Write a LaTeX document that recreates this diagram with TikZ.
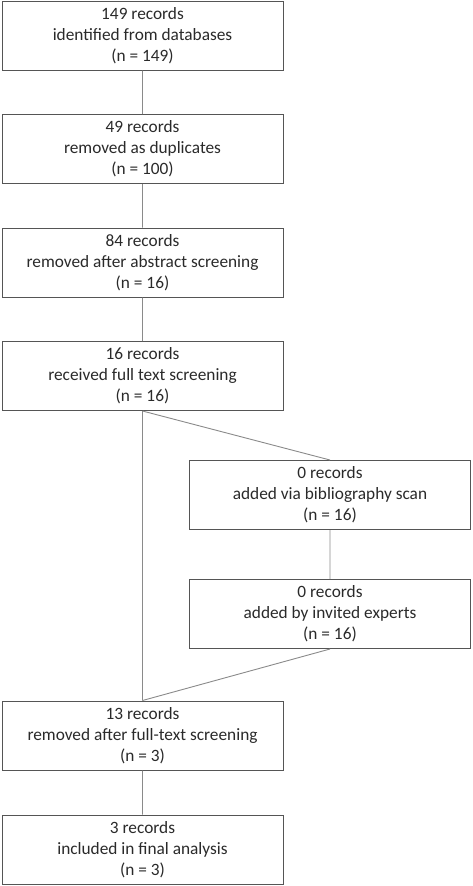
\documentclass[tikz,border=0pt]{standalone}
\usepackage{fontspec}
\setmainfont{Carlito}
\usepackage{tikz}
\definecolor{boxgray}{HTML}{555555}
\definecolor{linkgray}{HTML}{8A8A8A}
\definecolor{txtgray}{HTML}{2A2A2A}
\tikzset{recbox/.style={draw=boxgray,line width=1pt,fill=white,text=txtgray,
  minimum width=281pt,minimum height=69pt,inner sep=0pt,align=center,
  font=\fontsize{17.3}{21}\selectfont},
  link/.style={draw=linkgray,line width=0.9pt}}
\begin{document}
\begin{tikzpicture}[x=1pt,y=-1pt]
\useasboundingbox (0,0) rectangle (472,886);
\node[recbox] (ident) at (142.5,35.5) {149 records\\identified from databases\\(n = 149)};
\node[recbox] (dupl) at (142.5,149) {49 records\\removed as duplicates\\(n = 100)};
\node[recbox] (abstr) at (142.5,262.5) {84 records\\removed after abstract screening\\(n = 16)};
\node[recbox] (full) at (142.5,376) {16 records\\received full text screening\\(n = 16)};
\node[recbox] (biblio) at (330,495) {0 records\\added via bibliography scan\\(n = 16)};
\node[recbox] (expert) at (330,614) {0 records\\added by invited experts\\(n = 16)};
\node[recbox] (remft) at (142.5,735.5) {13 records\\removed after full-text screening\\(n = 3)};
\node[recbox] (final) at (142.5,849.5) {3 records\\included in final analysis\\(n = 3)};
\draw[link] (ident)--(dupl) (dupl)--(abstr) (abstr)--(full) (full.south)--(remft.north)
(full.south)--(biblio.north) (biblio)--(expert) (expert.south)--(remft.north)
(remft)--(final);
\end{tikzpicture}
\end{document}
